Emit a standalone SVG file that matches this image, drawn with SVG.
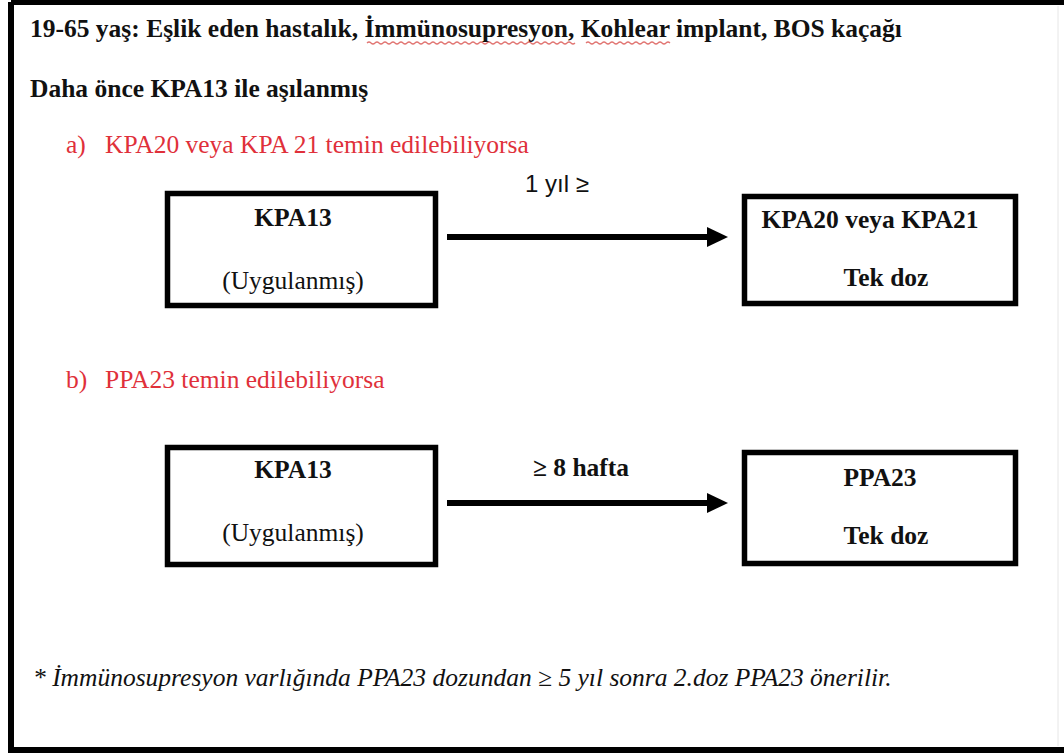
<svg xmlns="http://www.w3.org/2000/svg" width="1064" height="753" viewBox="0 0 1064 753">
  <style>
    .serif { font-family: "Liberation Serif", "Times New Roman", serif; fill: #111; font-size: 25.5px; }
    .b { font-weight: bold; }
    .red { fill: #e0303a; }
    .box { fill: #fff; stroke: #000; stroke-width: 5.5; }
    .link { stroke: #000; stroke-width: 6; fill: none; }
    .squiggle { stroke: #d9534f; stroke-width: 1.2; fill: none; opacity: 0.8; }
    .lbl { font-family: "Liberation Sans", Arial, sans-serif; font-size: 24px; fill: #111; }
  </style>
  <defs>
    <marker id="arrowhead" markerWidth="21" markerHeight="20" refX="0" refY="10" orient="auto" markerUnits="userSpaceOnUse">
      <path d="M0,0 L21,10 L0,20 Z" fill="#000"/>
    </marker>
  </defs>

  <!-- page frame -->
  <rect x="0" y="0" width="1064" height="753" fill="#fff"/>
  <path d="M11,2 H1070 M11,2 V750 H1070" stroke="#000" stroke-width="6" fill="none"/>
  <line x1="1058" y1="6" x2="1058" y2="746" stroke="#e6e6e6" stroke-width="1"/>

  <!-- headings -->
  <g id="headings">
    <text class="serif b" x="30" y="37">19-65 yaş: Eşlik eden hastalık, İmmünosupresyon, Kohlear implant, BOS kaçağı</text>
    <path class="squiggle" d="M367,43 q2,-2 4,0 t4,0 t4,0 t4,0 t4,0 t4,0 t4,0 t4,0 t4,0 t4,0 t4,0 t4,0 t4,0 t4,0 t4,0 t4,0 t4,0 t4,0 t4,0 t4,0 t4,0 t4,0 t4,0 t4,0 t4,0 t4,0 t4,0 t4,0 t4,0 t4,0 t4,0 t4,0 t4,0 t4,0 t4,0 t4,0 t4,0 t4,0 t4,0 t4,0 t4,0 t4,0 t4,0 t4,0 t4,0 t4,0 t4,0 t4,0 t4,0 t4,0 t4,0 t4,0"/>
    <path class="squiggle" d="M586,43 q2,-2 4,0 t4,0 t4,0 t4,0 t4,0 t4,0 t4,0 t4,0 t4,0 t4,0 t4,0 t4,0 t4,0 t4,0 t4,0 t4,0 t4,0 t4,0 t4,0 t4,0 t4,0"/>
    <text class="serif b" x="30" y="97">Daha önce KPA13 ile aşılanmış</text>
    <text class="serif red" x="66" y="153">a)</text>
    <text class="serif red" x="105" y="153">KPA20 veya KPA 21 temin edilebiliyorsa</text>
    <text class="serif red" x="66" y="388">b)</text>
    <text class="serif red" x="105" y="388">PPA23 temin edilebiliyorsa</text>
  </g>

  <!-- connectors -->
  <g id="connectors">
    <line class="link" x1="447" y1="237" x2="707" y2="237" marker-end="url(#arrowhead)"/>
    <text class="lbl" x="557" y="192" text-anchor="middle">1 yıl ≥</text>
    <line class="link" x1="447" y1="503" x2="707" y2="503" marker-end="url(#arrowhead)"/>
    <text class="serif b" x="581" y="476" text-anchor="middle">≥ 8 hafta</text>
  </g>

  <!-- option a -->
  <g id="node-kpa13-a">
    <rect class="box" x="167.5" y="193.5" width="268" height="112"/>
    <text class="serif b" x="293" y="226" text-anchor="middle">KPA13</text>
    <text class="serif" x="293" y="289" text-anchor="middle">(Uygulanmış)</text>
  </g>
  <g id="node-kpa20-21">
    <rect class="box" x="744.5" y="196.5" width="271" height="107"/>
    <text class="serif b" x="870" y="228" text-anchor="middle">KPA20 veya KPA21</text>
    <text class="serif b" x="886" y="286" text-anchor="middle">Tek doz</text>
  </g>

  <!-- option b -->
  <g id="node-kpa13-b">
    <rect class="box" x="167.5" y="447.5" width="268" height="117"/>
    <text class="serif b" x="293" y="478" text-anchor="middle">KPA13</text>
    <text class="serif" x="293" y="541" text-anchor="middle">(Uygulanmış)</text>
  </g>
  <g id="node-ppa23">
    <rect class="box" x="744.5" y="452.5" width="271" height="111"/>
    <text class="serif b" x="880" y="486" text-anchor="middle">PPA23</text>
    <text class="serif b" x="886" y="544" text-anchor="middle">Tek doz</text>
  </g>

  <!-- footnote -->
  <g id="footnote">
    <text class="serif" x="33" y="686" font-style="italic">* İmmünosupresyon varlığında PPA23 dozundan ≥ 5 yıl sonra 2.doz PPA23 önerilir.</text>
  </g>
</svg>
